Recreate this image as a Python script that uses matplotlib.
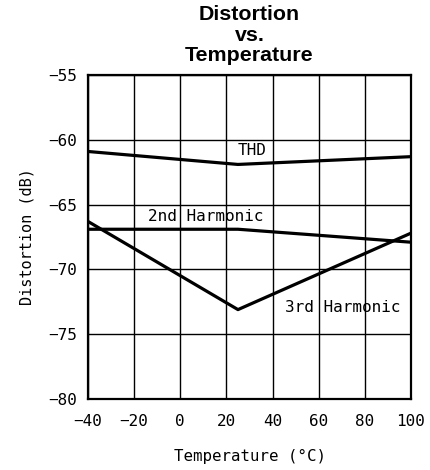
import matplotlib
matplotlib.use("Agg")
import matplotlib.pyplot as plt

# temperature (degC) and distortion (dB)
temp = [-40, 25, 100]
thd = [-60.9, -61.9, -61.3]
second = [-66.9, -66.9, -67.9]
third = [-66.3, -73.1, -67.2]

xticks = [-40, -20, 0, 20, 40, 60, 80, 100]
yticks = [-80, -75, -70, -65, -60, -55]

mono = "DejaVu Sans Mono"

fig = plt.figure(figsize=(4.3, 4.7), dpi=100)
ax = fig.add_axes([0.2047, 0.151, 0.7511, 0.6894])

ax.plot(temp, thd, color="black", lw=2.3, solid_capstyle="butt", zorder=3)
ax.plot(temp, second, color="black", lw=2.3, solid_capstyle="butt", zorder=3)
ax.plot(temp, third, color="black", lw=2.3, solid_capstyle="butt", zorder=3)

ax.set_xlim(-40, 100)
ax.set_ylim(-80, -55)
ax.set_xticks(xticks)
ax.set_yticks(yticks)
ax.set_xticklabels([f"\u2212{abs(v)}" if v < 0 else str(v) for v in xticks],
                   family=mono, fontsize=11.5)
ax.set_yticklabels([f"\u2212{abs(v)}" for v in yticks], family=mono, fontsize=11.5)
ax.tick_params(length=0, pad=8)
ax.tick_params(axis="x", pad=11)
ax.grid(True, color="black", lw=1.0)
for s in ax.spines.values():
    s.set_linewidth(1.6)

ax.text(31, -60.85, "THD", family=mono, fontsize=11.5, ha="center", va="center")
ax.text(11, -65.9, "2nd Harmonic", family=mono, fontsize=11.5, ha="center", va="center")
ax.text(70.5, -72.9, "3rd Harmonic", family=mono, fontsize=11.5, ha="center", va="center")

ax.set_xlabel("Temperature (\u00b0C)", family=mono, fontsize=11.3, labelpad=14)
ax.set_ylabel("Distortion (dB)", family=mono, fontsize=11, labelpad=10)
ax.set_title("Distortion\nvs.\nTemperature", family="Liberation Sans",
             fontweight="bold", fontsize=15.4, linespacing=1.1, pad=10)

fig.savefig("out.png", dpi=100)
